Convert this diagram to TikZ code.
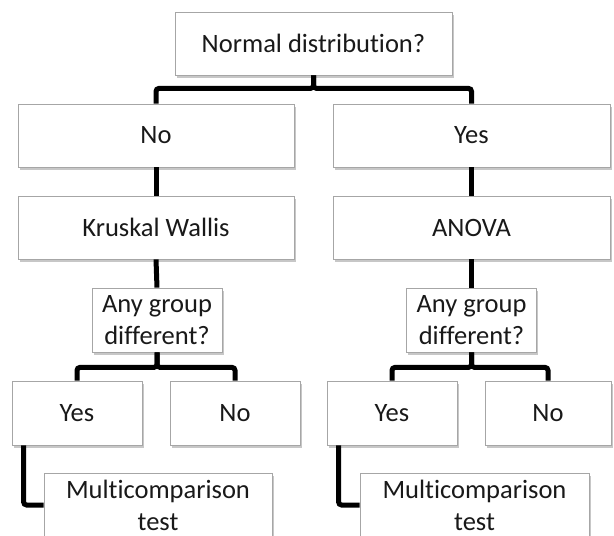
\documentclass[tikz,border=0pt]{standalone}
\usepackage{fontspec}
\setmainfont{Carlito}[Ligatures=NoCommon]
\usetikzlibrary{shadows}
\begin{document}
\begin{tikzpicture}[x=1pt,y=1pt,
  box/.style={draw=black!35, line width=0.8pt, fill=white, minimum height=63pt,
    inner sep=0pt, align=center, text=black!90, font=\fontsize{26.5}{32}\selectfont,
    drop shadow={shadow xshift=1.5pt, shadow yshift=-2.5pt, fill=black, opacity=0.22}},
  conn/.style={line width=5pt, rounded corners=3pt}]
\useasboundingbox (0,0) rectangle (614,-536);
\clip (0,0) rectangle (614,-536);
% nodes
\node[box, minimum width=277pt] (top) at (313.5,-43.5) {Normal distribution?};
\node[box, minimum width=276pt] (no) at (156,-135.5) {No};
\node[box, minimum width=277pt] (yes) at (471.5,-135.5) {Yes};
\node[box, minimum width=276pt] (kw) at (156,-227.5) {Kruskal Wallis};
\node[box, minimum width=277pt] (anova) at (471.5,-227.5) {ANOVA};
\node[box, minimum width=130pt, minimum height=64pt] (anyL) at (157,-320) {Any group\\different?};
\node[box, minimum width=130pt, minimum height=64pt] (anyR) at (471.5,-320) {Any group\\different?};
\node[box, minimum width=130pt, minimum height=64pt] (yesL) at (77,-413) {Yes};
\node[box, minimum width=130pt, minimum height=64pt] (noL) at (235,-413) {No};
\node[box, minimum width=130pt, minimum height=64pt] (yesR) at (392,-413) {Yes};
\node[box, minimum width=126pt, minimum height=64pt] (noR) at (548,-413) {No};
\node[box, minimum width=228pt, minimum height=64pt] (multiL) at (158,-505) {Multicomparison\\test};
\node[box, minimum width=229pt, minimum height=64pt] (multiR) at (474.5,-505) {Multicomparison\\test};
% connectors
\draw[conn] (top.south) -- ++(0,-13) -| (no.north);
\draw[conn] (top.south) -- ++(0,-13) -| (yes.north);
\draw[conn] (no.south) -- (kw.north);
\draw[conn] (yes.south) -- (anova.north);
\draw[conn] (kw.south) -- (anyL.north);
\draw[conn] (anova.south) -- (anyR.north);
\draw[conn] (anyL.south) -- ++(0,-15) -| (yesL.north);
\draw[conn] (anyL.south) -- ++(0,-15) -| (noL.north);
\draw[conn] (anyR.south) -- ++(0,-15) -| (yesR.north);
\draw[conn] (anyR.south) -- ++(0,-15) -| (noR.north);
\draw[conn] ([xshift=12pt]yesL.south west) |- (multiL.west);
\draw[conn] ([xshift=12pt]yesR.south west) |- (multiR.west);
\end{tikzpicture}
\end{document}
